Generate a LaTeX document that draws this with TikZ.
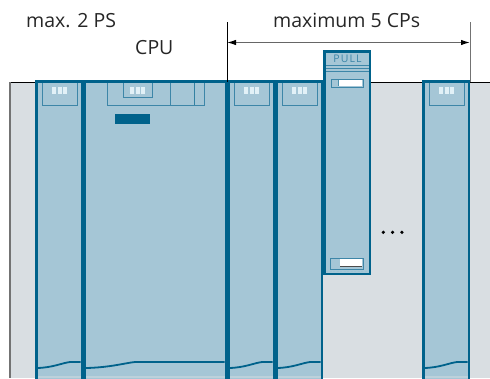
\documentclass[tikz,border=0pt]{standalone}
\usepackage{fontspec}
\setmainfont{Open Sans}
\newfontfamily\pullfont[LetterSpace=10]{Open Sans}
\usetikzlibrary{arrows.meta}
\definecolor{railgrey}{HTML}{D9DEE2}
\definecolor{moddark}{HTML}{00628B}
\definecolor{modfill}{HTML}{A5C6D6}
\definecolor{modmid}{HTML}{3D86A8}
\definecolor{ledwhite}{HTML}{E2F1F7}
\tikzset{
  modbody/.style={fill=modfill},
  module/.style={draw=moddark, line width=2.5pt},
  topbox/.style={draw=modmid, line width=1pt},
  led/.style={fill=ledwhite},
  rim/.style={draw=moddark, line width=1.8pt},
  lbl/.style={font=\fontsize{19.5}{23}\selectfont, text=black!85, inner sep=0pt, anchor=base west},
  pulltxt/.style={font=\pullfont\fontsize{10.5}{11}\selectfont, text=modmid, inner sep=0pt},
  dimline/.style={draw=black!60, line width=1.2pt,
    {Latex[length=9pt,width=5.5pt,color=black]}-{Latex[length=9pt,width=5.5pt,color=black]}},
  extline/.style={line width=1pt},
}
% three status LEDs, #1 = centre x, #2 = top y
\newcommand{\ledrow}[2]{%
  \foreach \lx in {0,5.5,11} \fill[led] (#1-7.5+\lx,#2) rectangle ++(4,6.5);}
% single-width module, #1 = left edge
\newcommand{\narrowmod}[1]{%
  \fill[modbody] (#1,80) rectangle (#1+48,390);
  \fill[modfill!55!railgrey] (#1+2.5,375.5) rectangle (#1+45.5,378);
  \draw[topbox] (#1+7,81.5) rectangle (#1+42,105);
  \ledrow{#1+24.5}{87}
  \draw[rim] (#1+2.5,368) .. controls (#1+18,367.5) and (#1+27,363) .. (#1+35,362) -- (#1+45.5,362);
  \draw[module] (#1+1.25,81.25) rectangle (#1+46.75,390);}

\begin{document}
\begin{tikzpicture}[x=1pt, y=-1pt]
  \useasboundingbox (0,0) rectangle (490,378);
  \clip (0,0) rectangle (490,378);

  % rail
  \fill[railgrey] (9.5,82) rectangle (490,378);
  \draw[black, line width=1pt] (9.5,82) -- (490,82);
  \draw[black!55, line width=1.5pt] (10,82) -- (10,378);

  % PS, CP, CP and the last CP
  \foreach \ml in {35,227,275,422} {\narrowmod{\ml}}

  % CPU
  \fill[modbody] (83,80) rectangle (227,390);
  \fill[modfill!55!railgrey] (85.5,375.5) rectangle (224.5,378);
  \draw[topbox] (107,81.5) rectangle (204,105);
  \draw[topbox] (170,81.5) -- (170,105);
  \draw[topbox, draw=moddark!80] (194,81.5) -- (194,105);
  \draw[topbox] (123,81.5) rectangle (152,97);
  \ledrow{137.5}{87}
  \fill[moddark] (115,114) rectangle (150,124);
  \draw[rim] (86,368) .. controls (110,367.5) and (125,363) .. (135,362) -- (224.5,362);
  \draw[module] (84.25,81.25) rectangle (225.75,390);

  % pulled CP
  \fill[modbody] (323,50) rectangle (371,275);
  \node[pulltxt] (pull) at (347.5,58.5) {PULL};
  \foreach \sy in {65.5,68.5,71.5} \draw[modmid, line width=1.1pt] (324,\sy) -- (370,\sy);
  \fill[white] (338,80) rectangle (362,86);
  \draw[modmid, line width=1pt] (331,79) rectangle (363,87);
  \draw[moddark!70] (338,80) -- (338,86);
  \fill[white] (340,259) rectangle (362,267);
  \draw[black!70, line width=0.8pt] (340,266.6) -- (362,266.6);
  \draw[modmid, line width=1pt] (330,258) rectangle (363,269);
  \draw[modmid!50!white, dash pattern=on 2pt off 1.5pt, line width=0.8pt] (326,271) -- (368,271);
  \draw[module] (324.25,51.25) rectangle (369.75,273.75);

  % more CPs
  \foreach \dx in {383.3,392.6,401.9} \fill (\dx,232.3) circle (1.8pt);

  % dimension for the CPs
  \coordinate (extLtop) at (227,22);
  \coordinate (extLbot) at (227,82);
  \coordinate (extRtop) at (470,22);
  \coordinate (extRbot) at (470,82);
  \coordinate (dimL) at (227,42.5);
  \coordinate (dimR) at (470,42.5);
  \draw[extline] (extLtop) -- (extLbot);
  \draw[extline, black!55] (extRtop) -- (extRbot);
  \draw[dimline] (dimL) -- (dimR);

  \node[lbl] (psmax) at (26,27) {max. 2 PS};
  \node[lbl] (cpu) at (135,54) {CPU};
  \node[lbl] (cpmax) at (273,27) {maximum 5 CPs};
\end{tikzpicture}
\end{document}
